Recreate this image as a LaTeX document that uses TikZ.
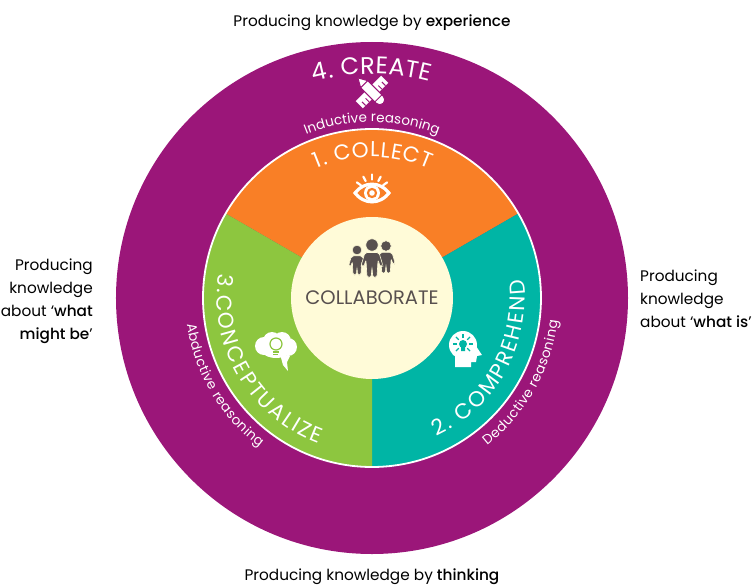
\documentclass[tikz,border=0pt]{standalone}
\usepackage{fontspec}
\setmainfont[BoldFont={Poppins Medium}]{Poppins}
\usetikzlibrary{decorations.text}
\definecolor{ringpurple}{HTML}{9B1679}
\definecolor{wedgeorange}{HTML}{F97F26}
\definecolor{wedgegreen}{HTML}{8DC63F}
\definecolor{wedgeteal}{HTML}{00B5A5}
\definecolor{corecream}{HTML}{FFFBD8}
\definecolor{coregrey}{HTML}{58504F}
\newcommand{\bigarc}{\fontsize{24}{24}\selectfont\color{white}}
\newcommand{\midarc}{\fontsize{21.5}{24}\selectfont\color{white}}
\newcommand{\smallarc}{\fontsize{13.5}{14}\selectfont\color{white}}
\tikzset{
  every picture/.append style={x=1pt, y=1pt},
  note/.style={font=\fontsize{15.3}{23}\selectfont, text=black, inner sep=0pt},
  arclabel/.style={decorate, decoration={text along path, text align={fit to path}, text={#1}}},
  iconline/.style={draw=white, line width=2.2pt, line cap=round}
}

\begin{document}
\begin{tikzpicture}
  \useasboundingbox (-372,-286) rectangle (380,298);
  \fill[ringpurple] (0,0) circle (256);
  \fill[wedgeorange] (0,0) -- (150:169) arc (150:30:169) -- cycle;
  \fill[wedgeteal] (0,0) -- (30:169) arc (30:-90:169) -- cycle;
  \fill[wedgegreen] (0,0) -- (-90:169) arc (-90:-210:169) -- cycle;
  \draw[white, line width=1.8pt] (0,0) circle (169);
  \fill[corecream] (0,0) circle (81);

  \node[note, anchor=base] (topnote) at (0,271) {Producing knowledge by \textbf{experience}};
  \node[note, anchor=base] (bottomnote) at (0,-282) {Producing knowledge by \textbf{thinking}};
  \node[note, align=right, anchor=east] (leftnote) at (-279,-3) {Producing\\knowledge\\about ‘\textbf{what}\\\textbf{might be}’};
  \node[note, align=left, anchor=west] (rightnote) at (268,-1) {Producing\\knowledge\\about ‘\textbf{what is}’};
  \node[inner sep=0pt, text=coregrey, font=\fontsize{19.5}{20}\selectfont] (core) at (0,0) {COLLABORATE};

  \path[arclabel={|\bigarc|4. CREATE}] (105:224) arc (105:75:224);
  \path[arclabel={|\smallarc|Inductive reasoning}] (112:176) arc (112:68:176);
  \path[arclabel={|\midarc|1. COLLECT}] (113:141) arc (113:66:141);
  \path[arclabel={|\midarc|2. COMPREHEND}] (-65:153) arc (-65:7:153);
  \path[arclabel={|\smallarc|Deductive reasoning}] (-52:187) arc (-52:-7:187);
  \path[arclabel={|\midarc|3.CONCEPTUALIZE}] (171:155) arc (171:250:155);
  \path[arclabel={|\smallarc|Abductive reasoning}] (188:187) arc (188:233:187);

  % pencil and ruler
  \begin{scope}[shift={(0,206)}]
    \begin{scope}[rotate=45]
      \fill[white] (-18,-5) rectangle (18,5);
      \foreach \tick in {-14,-9,9,14}
        \draw[ringpurple, line width=1pt] (\tick,-5) -- (\tick,0);
    \end{scope}
    \begin{scope}[rotate=-45]
      \fill[white, draw=ringpurple, line width=1pt] (-20,0) -- (-11,-5) -- (11,-5) arc (-90:90:5) -- (-11,5) -- cycle;
      \draw[ringpurple, line width=1pt] (-11,-5) -- (-11,5) (9,-5) -- (9,5);
    \end{scope}
  \end{scope}

  % eye
  \begin{scope}[shift={(0,105)}]
    \fill[white] (-19,0) .. controls (-9,14) and (9,14) .. (19,0) .. controls (9,-14) and (-9,-14) .. (-19,0) -- cycle;
    \fill[wedgeorange] (-14.5,0) .. controls (-7,9.5) and (7,9.5) .. (14.5,0) .. controls (7,-9.5) and (-7,-9.5) .. (-14.5,0) -- cycle;
    \fill[white] (0,0) circle (8);
    \fill[wedgeorange] (0,0) circle (5.2);
    \fill[white] (0,0) circle (2.8);
    \foreach \lash in {35,62,90,118,145}
      \draw[iconline] (\lash:13.5) -- (\lash:18.5);
  \end{scope}

  % three people
  \foreach \px/\py/\ps in {-15/48/0.78, 14/52/0.85, 0/53/1} {
    \begin{scope}[shift={(\px,\py)}, scale=\ps]
      \fill[coregrey, draw=corecream, line width=0.6pt] (0,0) circle (6.2);
      \fill[coregrey, draw=corecream, line width=0.6pt, rounded corners=2pt] (-7,-7.5) -- (7,-7.5) -- (11,-21) -- (8.5,-22) -- (6,-15) -- (5,-32.5) -- (0.8,-32.5) -- (0,-22) -- (-0.8,-32.5) -- (-5,-32.5) -- (-6,-15) -- (-8.5,-22) -- (-11,-21) -- cycle;
    \end{scope}
  }

  % brain with bulb
  \begin{scope}[shift={(-96,-50)}]
    \fill[white] (-12,2) circle (9) (-4,7) circle (9) (6,7) circle (9) (12,1) circle (9) (0,-1) ellipse (15 and 9);
    \fill[white] (4,-6) -- (14,-8) -- (11,-14) -- (12,-23) -- (7,-17) -- cycle;
    \draw[wedgegreen, line width=1.2pt] (0,4) circle (6);
    \draw[wedgegreen, line width=1.2pt] (-3,-4) -- (3,-4) (-2.5,-6.5) -- (2.5,-6.5);
  \end{scope}

  % head with bulb
  \begin{scope}[shift={(91,-47)}]
    \fill[white] (0,0) circle (14);
    \fill[white] (-8,-8) -- (-8,-22) -- (8,-22) -- (8,-17) -- (13,-17) -- (14,-11) -- (19,-10) -- (13,-1) -- cycle;
    \fill[wedgeteal] (0,1) circle (4) (-2,-2) rectangle (2,-6);
    \foreach \ray in {90,135,45,180,0,-135,-45}
      \draw[wedgeteal, line width=1.1pt] (0,1) ++(\ray:6) -- ++(\ray:4);
  \end{scope}
\end{tikzpicture}
\end{document}
